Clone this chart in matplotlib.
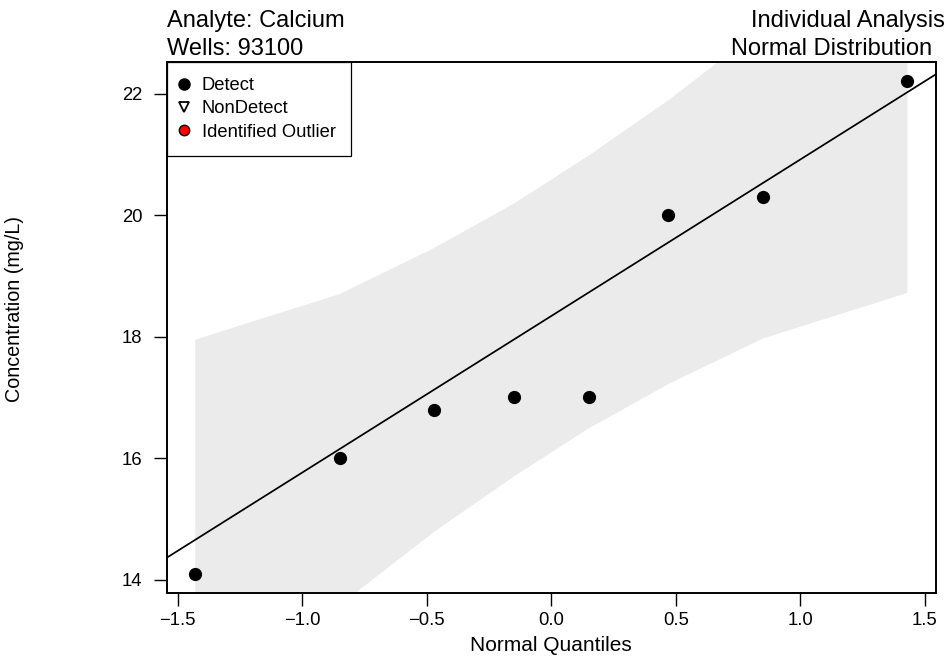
import matplotlib
matplotlib.use("Agg")
import matplotlib.pyplot as plt
from matplotlib.lines import Line2D

plt.rcParams['font.family'] = ['Liberation Sans', 'DejaVu Sans']

# normal quantiles of the 8 samples and the measured concentrations
quantiles = [-1.43, -0.85, -0.47, -0.15, 0.15, 0.47, 0.85, 1.43]
conc = [14.1, 16.0, 16.8, 17.0, 17.0, 20.0, 20.3, 22.2]

# confidence envelope around the fitted line
band_upper = [17.95, 18.70, 19.46, 20.19, 20.98, 21.89, 23.09, 25.34]
band_lower = [11.34, 13.58, 14.79, 15.70, 16.49, 17.22, 17.97, 18.72]

# fitted line (through the quartiles)
fit_intercept = 18.34
fit_slope = 2.576

x_ticks = [-1.5, -1.0, -0.5, 0.0, 0.5, 1.0, 1.5]
x_tick_labels = ['\u22121.5', '\u22121.0', '\u22120.5', '0.0', '0.5', '1.0', '1.5']
y_ticks = [14, 16, 18, 20, 22]
y_tick_labels = ['14', '16', '18', '20', '22']

legend_labels = ['Detect', 'NonDetect', 'Identified Outlier']

fig = plt.figure(figsize=(9.51, 6.63), dpi=100)
ax = fig.add_axes([0.1753, 0.1051, 0.8089, 0.8018])

ax.fill_between(quantiles, band_lower, band_upper, color='#EBEBEB', lw=0, zorder=1)
ax.axline((0, fit_intercept), slope=fit_slope, color='black', lw=1.25, zorder=2)
ax.plot(quantiles, conc, 'o', color='black', ms=8.5, zorder=3)

# R style 4% padding of the axis ranges
xpad = 0.04 * (max(quantiles) - min(quantiles))
ypad = 0.04 * (max(conc) - min(conc))
ax.set_xlim(min(quantiles) - xpad, max(quantiles) + xpad)
ax.set_ylim(min(conc) - ypad, max(conc) + ypad)

ax.set_xticks(x_ticks)
ax.set_xticklabels(x_tick_labels)
ax.set_yticks(y_ticks)
ax.set_yticklabels(y_tick_labels)
ax.tick_params(axis='both', direction='out', length=9.5, width=1.0, labelsize=13.3)
ax.tick_params(axis='x', pad=4.3)
ax.tick_params(axis='y', pad=8)
for sp in ax.spines.values():
    sp.set_linewidth(1.4)

ax.set_xlabel('Normal Quantiles', fontsize=15, va='center')
ax.xaxis.set_label_coords(0.5, -0.0973)
fig.text(15 / 951, 1 - 309 / 663, 'Concentration (mg/L)', rotation=90,
         fontsize=14.2, ha='center', va='center')

# header texts
fig.text(166.7 / 951, 1 - 27.3 / 663, 'Analyte: Calcium', fontsize=17, ha='left', va='baseline')
fig.text(167 / 951, 1 - 55 / 663, 'Wells: 93100', fontsize=17, ha='left', va='baseline')
fig.text(945 / 951, 1 - 27.3 / 663, 'Individual Analysis', fontsize=17, ha='right', va='baseline')
fig.text(932 / 951, 1 - 55 / 663, 'Normal Distribution', fontsize=17, ha='right', va='baseline')

handles = [
    Line2D([], [], ls='none', marker='o', ms=8, mfc='black', mec='black'),
    Line2D([], [], ls='none', marker='v', ms=7, mfc='white', mec='black', mew=1.3),
    Line2D([], [], ls='none', marker='o', ms=7.5, mfc='red', mec='black', mew=1.0),
]
leg = ax.legend(handles, legend_labels, loc='upper left', bbox_to_anchor=(0, 1),
                borderaxespad=0, fontsize=13.25, borderpad=0.83, handlelength=0.25,
                handletextpad=0.82, labelspacing=0.34, numpoints=1,
                fancybox=False, framealpha=1, edgecolor='black')
leg.get_frame().set_linewidth(0.9)
leg.set_zorder(5)

fig.savefig('out.png', dpi=100)
